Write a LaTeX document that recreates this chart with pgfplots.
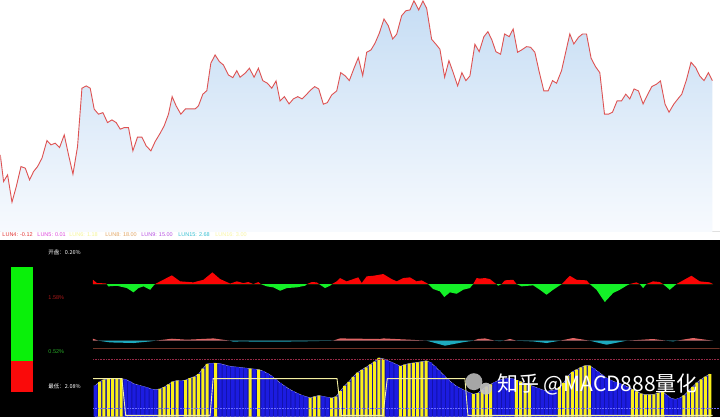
\documentclass[border=0pt]{standalone}
\usepackage{pgfplots}
\pgfplotsset{compat=1.18}
\usepackage{pgfplotstable}
\usepackage{fontspec}
\setmainfont{Liberation Sans}
\newfontfamily\cjk{Noto Sans CJK SC}

\definecolor{lineRed}{RGB}{222,82,82}
\definecolor{fillTop}{RGB}{198,221,244}
\definecolor{fillBot}{RGB}{247,250,254}
\definecolor{oscRed}{RGB}{250,5,5}
\definecolor{oscGreen}{RGB}{20,240,40}
\definecolor{oscPink}{RGB}{225,100,100}
\definecolor{oscCyan}{RGB}{30,170,190}
\definecolor{barBlue}{RGB}{28,28,225}
\definecolor{areaBlue}{RGB}{18,18,165}
\definecolor{barYellow}{RGB}{250,240,25}
\definecolor{stepLine}{RGB}{245,240,160}
\definecolor{brownLine}{RGB}{110,50,38}

% price line, height above the base of the upper chart
\pgfplotstableread{
x v
0 77
3.3 50.3
7.3 57
11.7 29.7
16 45.3
20.7 65.3
25 63.7
29.3 52
33.3 60.3
37.3 65.3
41.7 73.7
46.7 91.3
50.7 87
55 88.7
59.3 84.3
64 97
68.3 77
72.7 57.7
77.3 85.3
81.7 143.7
86 146
90 143.7
94 122.7
98.3 117.7
102.7 119.3
107.3 109.3
111.7 112
116 109.3
120 102.7
124 104.3
128.3 104.3
132.7 81
137.3 94.7
141.7 94.7
146 86
150.7 81
155 90.3
160 98.7
164 106
168.3 117.7
172 135.3
176 126
180.7 117.7
185.3 123
190 123
195 123
198.3 126
202.7 137.7
206.7 141.3
210.7 168.7
215 177
219.3 170.3
223.3 167
228.3 157
232.7 154.3
236.7 161.3
240 154.7
245 158.7
249.3 163.7
254 154.7
258.3 163.7
262.7 151.3
267.3 148.7
271.7 143.7
276 151
280 131
284.3 135.3
289 128
293.3 133
297.7 135.3
302 133
306.7 137.7
310.7 142
314.7 145.3
318.7 143
323.3 127.7
327.3 129.3
331.7 137
336.7 141
340.7 159.3
345.3 156
349.3 151.3
354 163.7
358.3 174.3
362.7 156.3
366.7 179.7
371 182
375 188.7
379.3 198.7
384 213
388.3 206.3
392.7 193
396.7 197.7
401.7 216.3
406 221.3
410 222
414 231.3
418.7 222
423 231
426.7 223.7
431.7 192.7
436 187.7
440 182.7
444.7 154.7
449 171.3
453.3 159.3
457.7 146
462 159.3
466 151.3
470 156
475 187.7
479.3 180.3
484 195.3
488 200.3
492 192
496 180.3
500.7 177.7
504.7 198
509.3 195.3
513.3 203
517.7 179.7
521.7 182
526.7 185.3
530.7 184.7
535 179.7
539.3 160.3
544 141
548.3 141
552.7 151.3
556.7 148.7
561.7 161.3
566 180.3
570 198
574 188
578.7 194.7
582.7 198
586.7 198
591.3 173.7
595.7 165.3
600 159.3
604.7 117.7
608.7 117.7
612.7 119.7
617.3 131
621.7 131
626 137.7
630 133
634.3 143
638.7 141
643.3 128
647.7 137
652 145.3
656.7 147.7
660.7 151
665.3 127.7
669.3 119.7
674 127.7
678.7 133.7
682 137.7
686.7 152
691.3 169.7
696 164.3
700 156
704.3 151.3
708.7 159.3
712.7 151.3
}\price

% upper oscillator (value around its zero line)
\pgfplotstableread{
x v
92.7 0
92.7 4.3
96.7 1
105 0.7
106.7 0
108 -2.3
116.7 -1.7
126.7 -4
133.3 -8.3
138.3 -4
143.3 -2.3
150 -5.7
153.3 -1.7
155 0
160 2.7
171.7 8.7
180 2.7
193.3 1.7
203.3 4.3
212.3 11.7
220 5
230 0.5
236.7 2.7
243.3 1
248.3 2
253.3 0
258.3 2
260.7 0
266.7 -2.3
273.3 -3.3
280 -6.7
286.7 -4
296.7 -3.3
305 -1.7
307 0
311.7 2
316.7 1.7
319 0
325 -4
330 -1.7
332 0
336.7 2.7
340 6
346.7 2.7
353.3 5
358.3 6.7
361.7 1
366.7 7.7
373.3 8.3
383.3 10
391.7 5
396.7 2.7
403.3 6
410 6.7
416.7 2.7
421.7 3.7
426.7 1
428.3 0
433.3 -5
440 -7.3
444.3 -13
450 -8.3
456.7 -9.7
463.3 -5.7
470 -4
473.3 0
476.7 6
480 5.5
485 6
490 5
495 1
496.7 0
498.3 -1.7
501.7 0
505 3.7
513.3 4.3
516.7 0
521.7 -2.3
528.3 -1.7
533.3 -1.3
540 -5.7
546.7 -10.7
553.3 -5.7
560 -1.3
562 0
570 8.3
576.7 4.3
586.7 3.7
590 0
596.7 -5.7
605 -18
613.3 -9
620 -5.7
626.7 -1.7
630 0
636.7 1.7
640 0
643.3 -4
646.7 0
653.3 2.7
660 2
663.3 0
670 -5.7
676.7 0
691.7 8.3
700 2.7
710 1.7
713.3 0
}\oscA

% middle oscillator
\pgfplotstableread{
x v
92.7 0
92.7 2
98.3 0
110 -1.7
133.3 -2.3
150 -0.7
155 0
171.7 2
186.7 1
213.3 2.3
230 0
233.3 -1
240 -0.7
270 -1
300 -0.7
333 0
340 2.3
380 1.7
383.3 2.3
410 1
426.7 0
445 -5
463.3 -1.5
473.3 0
478 1.7
485 2.3
495 0
500 -0.5
503 0
510 1.7
516.7 0
533.3 -0.7
546.7 -2.3
560 0
573.3 2.7
590 0
606.7 -4
626.7 0
653.3 1.7
666.7 0
673.3 -0.7
676.7 0
693.3 2.7
713.3 0
}\oscB

% lower histogram: bar index, height, colour (1 = yellow)
\pgfplotstableread{
i h c
0 31.2 0
1 34.9 1
2 37.1 1
3 38 1
4 38 1
5 38 1
6 38 1
7 37.3 0
8 35.2 0
9 32.8 0
10 31.6 0
11 30.4 0
12 29.2 0
13 27.6 0
14 27 0
15 27.7 1
16 29.6 1
17 32.2 1
18 35 1
19 36.1 1
20 35.7 0
21 36.6 1
22 38.5 1
23 39.9 1
24 42.5 1
25 48 1
26 52.7 1
27 53.4 0
28 53.5 1
29 53 0
30 51.9 0
31 50.7 0
32 50 0
33 49.6 0
34 49.1 0
35 48.6 0
36 48 1
37 47.6 0
38 47.1 1
39 45.6 0
40 43.4 0
41 40.8 0
42 37.2 0
43 33.7 0
44 30.8 0
45 27.9 0
46 25.5 0
47 23.4 0
48 21.5 0
49 20.1 0
50 18.8 1
51 20.1 1
52 21.1 1
53 20.3 0
54 19.4 0
55 18.7 1
56 20 1
57 25.6 1
58 30.8 1
59 34.9 1
60 39.8 1
61 44 1
62 46.9 1
63 49.4 1
64 52.2 1
65 55.1 1
66 58.8 1
67 57.9 1
68 56.1 0
69 54.4 0
70 52.4 0
71 50.5 1
72 52 1
73 53.1 1
74 53.7 1
75 54.3 1
76 55.1 1
77 55.9 1
78 54.2 0
79 50.5 0
80 46.2 0
81 41.8 0
82 37.6 0
83 33.8 0
84 30.6 0
85 28.3 0
86 26.2 0
87 24.1 0
88 22.5 1
89 23.6 1
90 26.9 1
91 30.1 1
92 32.4 1
93 34.6 0
94 36.7 0
95 37.6 0
96 38.4 0
97 38 0
98 36.5 1
99 35 1
100 33.4 1
101 31.8 1
102 30.1 0
103 28.5 0
104 26.9 0
105 25.3 0
106 26 0
107 26.8 0
108 29.6 1
109 33.9 1
110 40.7 1
111 44.8 1
112 47 1
113 49.2 1
114 51 1
115 51.1 1
116 48.2 0
117 45 0
118 41.8 0
119 38.6 0
120 36.4 0
121 34.6 0
122 33.2 0
123 31.6 0
124 29.5 0
125 27.3 1
126 25.2 1
127 23 1
128 22 1
129 22 1
130 22.3 1
131 23.7 1
132 25.1 1
133 21.6 0
134 18.4 0
135 17.3 0
136 18.6 0
137 21.2 1
138 25.6 1
139 29.8 1
140 34 1
141 37.3 1
142 40.1 1
143 42.6 1
}\bars

\pgfplotsset{panel/.style={hide axis, scale only axis, anchor=south west,
    enlargelimits=false, width=720pt, xmin=0, xmax=720}}

\begin{document}
\begin{tikzpicture}[x=1pt,y=1pt]
\fill[white] (0,0) rectangle (720,417);
\fill[black] (0,0) rectangle (720,177);
\draw[black!12, line width=0.6pt] (0,185.5) -- (720,185.5);

% price chart
\begin{axis}[panel, at={(0,185)}, height=232pt, ymin=0, ymax=232]
\addplot[draw=none, top color=fillTop, bottom color=fillBot]
    table[x=x, y=v] {\price} \closedcycle;
\addplot[lineRed, line width=0.9pt] table[x=x, y=v] {\price};
\end{axis}

% black indicator panel: x in screen columns, y measured up from the bottom
\begin{axis}[panel, at={(0,0)}, height=177pt, ymin=0, ymax=177]
% left gauge
\addplot[fill={rgb,255:red,250;green,10;blue,10}, draw=none]
    coordinates {(11,25) (33,25) (33,55.5) (11,55.5)} -- cycle;
\addplot[fill={rgb,255:red,10;green,240;blue,10}, draw=none]
    coordinates {(11,55.5) (33,55.5) (33,149.5) (11,149.5)} -- cycle;
% upper oscillator, zero line at 132.7
\addplot[draw=none, fill=oscRed]
    table[x=x, y expr={132.7+max(\thisrow{v},0)}] {\oscA} -- cycle;
\addplot[draw=none, fill=oscGreen]
    table[x=x, y expr={132.7+min(\thisrow{v},0)}] {\oscA} -- cycle;
% middle oscillator, zero line at 76
\addplot[draw=none, fill=oscPink]
    table[x=x, y expr={76+max(\thisrow{v},0)}] {\oscB} -- cycle;
\addplot[draw=none, fill=oscCyan]
    table[x=x, y expr={76+min(\thisrow{v},0)}] {\oscB} -- cycle;
% histogram, bar i at column 95.15 + 4.3 i
\addplot[draw={rgb,255:red,150;green,150;blue,230}, line width=0.5pt, fill=areaBlue]
    table[x expr={95.15+4.3*\thisrow{i}}, y=h] {\bars} \closedcycle;
\addplot[ybar, bar shift=0pt, bar width=3.3pt, draw=none, fill=barBlue,
    restrict expr to domain={\thisrow{c}}{0:0}]
    table[x expr={95.15+4.3*\thisrow{i}}, y=h] {\bars};
\addplot[ybar, bar shift=0pt, bar width=3pt, draw=none, fill=barYellow,
    restrict expr to domain={\thisrow{c}}{1:1}]
    table[x expr={95.15+4.3*\thisrow{i}}, y=h] {\bars};
\addplot[brownLine, line width=0.8pt] coordinates {(93,68) (720,68)};
\addplot[densely dotted, draw={rgb,255:red,150;green,40;blue,70}, line width=0.6pt]
    coordinates {(93,57) (720,57)};
\addplot[densely dotted, draw={rgb,255:red,110;green,110;blue,255}, line width=0.6pt]
    coordinates {(93,8) (720,8)};
\addplot[stepLine, line width=0.9pt] coordinates {
    (93,38) (121.7,38) (125.5,1.3) (210,1.3) (213,38) (337,38) (341.3,1.3)
    (383,1.3) (387.3,38) (465,38) (468,1.3) (713,1.3)};
\end{axis}

% texts
\begin{scope}[every node/.style={anchor=west, inner sep=0pt}]
\node[white] at (48,164) {\cjk\fontsize{5.5}{6}\selectfont 开盘：0.26\%};
\node[text={rgb,255:red,170;green,25;blue,25}] at (48,119) {\fontsize{5.5}{6}\selectfont 1.58\%};
\node[text={rgb,255:red,40;green,170;blue,40}] at (48,65) {\fontsize{5.5}{6}\selectfont 0.52\%};
\node[white] at (48,30) {\cjk\fontsize{5.5}{6}\selectfont 最低：2.08\%};
\node[text={rgb,255:red,225;green,50;blue,50}] at (2,182) {\fontsize{5.5}{6}\selectfont LUN4: -0.12};
\node[text={rgb,255:red,220;green,70;blue,220}] at (37,182) {\fontsize{5.5}{6}\selectfont LUN5: 0.01};
\node[text={rgb,255:red,245;green,245;blue,150}] at (69,182) {\fontsize{5.5}{6}\selectfont LUN6: 1.18};
\node[text={rgb,255:red,225;green,165;blue,100}] at (105,182) {\fontsize{5.5}{6}\selectfont LUN8: 18.00};
\node[text={rgb,255:red,180;green,80;blue,225}] at (141,182) {\fontsize{5.5}{6}\selectfont LUN9: 15.00};
\node[text={rgb,255:red,50;green,190;blue,210}] at (178,182) {\fontsize{5.5}{6}\selectfont LUN15: 2.68};
\node[text={rgb,255:red,248;green,245;blue,160}] at (215,182) {\fontsize{5.5}{6}\selectfont LUN16: 3.00};
\end{scope}

% watermark
\fill[gray!55, opacity=0.9] (474,35) circle (8.5);
\fill[gray!45, opacity=0.9] (486,28) circle (6);
\node[anchor=west, inner sep=0pt, white] at (497,32)
    {\cjk\fontsize{21}{24}\selectfont 知乎 @MACD888量化};
\end{tikzpicture}
\end{document}
